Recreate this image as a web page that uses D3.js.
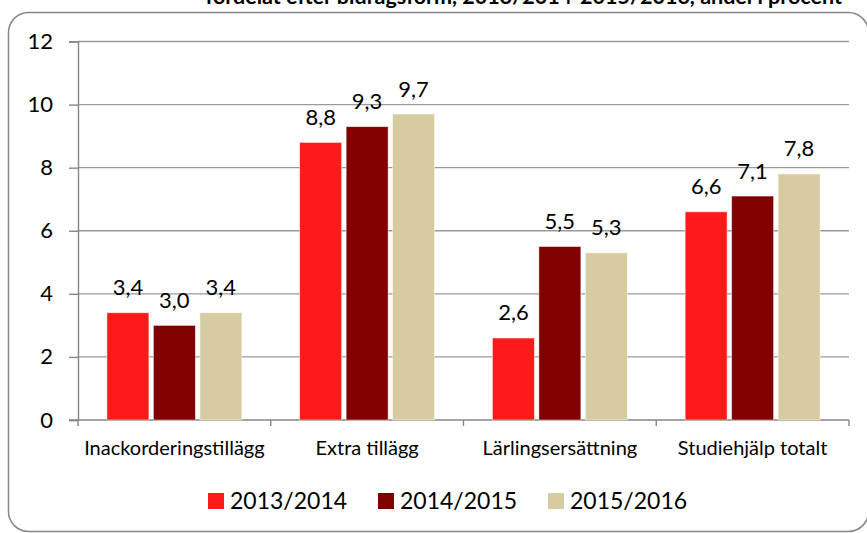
<!DOCTYPE html>
<html>
<head>
<meta charset="utf-8">
<script src="https://cdn.jsdelivr.net/npm/d3@7"></script>
<style>
  body { margin: 0; background: #fff; }
  svg { display: block; font-family: Lato, "Open Sans", sans-serif; }
</style>
</head>
<body>
<svg width="867" height="533"></svg>
<script>
var categories = ["Inackorderingstillägg", "Extra tillägg", "Lärlingsersättning", "Studiehjälp totalt"];
var series = ["2013/2014", "2014/2015", "2015/2016"];
var colors = ["#ff1a1a", "#800000", "#d7cba1"];

// andel i procent per bidragsform, one array per läsår
var v2013 = [3.4, 8.8, 2.6, 6.6];
var v2014 = [3.0, 9.3, 5.5, 7.1];
var v2015 = [3.4, 9.7, 5.3, 7.8];

var yTicks = [0, 2, 4, 6, 8, 10, 12];

var title = "fördelat efter bidragsform, 2013/2014-2015/2016, andel i procent";

var values = [v2013, v2014, v2015];

var svg = d3.select("svg"),
    width = +svg.attr("width"),
    height = +svg.attr("height");

var plot = { left: 78, right: 849, top: 41.5, bottom: 420 };

// outer frame, cropped at the top/right like the source
svg.append("rect")
    .attr("x", 8.5)
    .attr("y", 12.5)
    .attr("width", 860)
    .attr("height", 519)
    .attr("rx", 20)
    .attr("fill", "none")
    .attr("stroke", "#868686")
    .attr("stroke-width", 1.5);

// title line, only its lower edge shows in the source crop
svg.append("text")
    .attr("x", 842)
    .attr("y", 4)
    .attr("text-anchor", "end")
    .attr("font-weight", "bold")
    .attr("font-size", 21.5)
    .attr("fill", "#000")
    .text(title);

var x0 = d3.scaleBand()
    .domain(categories)
    .range([plot.left, plot.right])
    .paddingInner(0.3)
    .paddingOuter(0.15);

var x1 = d3.scaleBand()
    .domain(series)
    .range([0, x0.bandwidth()])
    .paddingInner(0.097);

var y = d3.scaleLinear()
    .domain([0, 12])
    .range([plot.bottom, plot.top]);

// gridlines
svg.append("g")
    .selectAll("line")
    .data(yTicks.filter(function (d) { return d > 0; }))
    .enter().append("line")
    .attr("x1", plot.left)
    .attr("x2", plot.right)
    .attr("y1", function (d) { return y(d); })
    .attr("y2", function (d) { return y(d); })
    .attr("stroke", "#9a9a9a")
    .attr("stroke-width", 1.4);

// y axis
var yAxis = svg.append("g")
    .attr("transform", "translate(" + plot.left + ",0)")
    .call(d3.axisLeft(y).tickValues(yTicks).tickSize(9).tickPadding(16)
        .tickFormat(function (d) { return d; }));

yAxis.select(".domain").attr("stroke", "#868686").attr("stroke-width", 1.4);
yAxis.selectAll(".tick line").attr("stroke", "#868686").attr("stroke-width", 1.4);
yAxis.selectAll(".tick text")
    .attr("font-family", "Lato, sans-serif")
    .attr("font-size", 22)
    .attr("fill", "#000");

// x axis: ticks at the category boundaries
var step = x0.step();
var bounds = d3.range(categories.length + 1).map(function (i) {
    return plot.left + i * step;
});

svg.append("line")
    .attr("x1", plot.left - 9)
    .attr("x2", plot.right)
    .attr("y1", plot.bottom)
    .attr("y2", plot.bottom)
    .attr("stroke", "#868686")
    .attr("stroke-width", 1.4);

svg.append("g")
    .selectAll("line")
    .data(bounds)
    .enter().append("line")
    .attr("x1", function (d) { return d; })
    .attr("x2", function (d) { return d; })
    .attr("y1", plot.bottom)
    .attr("y2", plot.bottom + 6)
    .attr("stroke", "#868686")
    .attr("stroke-width", 1.4);

svg.append("g")
    .selectAll("text")
    .data(categories)
    .enter().append("text")
    .attr("x", function (d) { return x0(d) + x0.bandwidth() / 2; })
    .attr("y", 455)
    .attr("text-anchor", "middle")
    .attr("font-size", 20)
    .attr("fill", "#000")
    .text(function (d) { return d; });

// bars
var groups = svg.append("g")
    .selectAll("g")
    .data(series)
    .enter().append("g")
    .attr("fill", function (d, i) { return colors[i]; });

var fmt = function (v) { return d3.format(".1f")(v).replace(".", ","); };

groups.each(function (s, si) {
    var g = d3.select(this);
    var rows = categories.map(function (c, ci) { return { cat: c, value: values[si][ci] }; });

    g.selectAll("rect")
        .data(rows)
        .enter().append("rect")
        .attr("x", function (d) { return x0(d.cat) + x1(s); })
        .attr("y", function (d) { return y(d.value); })
        .attr("width", x1.bandwidth())
        .attr("height", function (d) { return y(0) - y(d.value); })
        .attr("stroke", "#fff")
        .attr("stroke-opacity", 0.6)
        .attr("stroke-width", 0.8);

    g.selectAll("text")
        .data(rows)
        .enter().append("text")
        .attr("x", function (d) { return x0(d.cat) + x1(s) + x1.bandwidth() / 2; })
        .attr("y", function (d) { return y(d.value) - 17.5; })
        .attr("text-anchor", "middle")
        .attr("font-size", 22)
        .attr("fill", "#000")
        .text(function (d) { return fmt(d.value); });
});

// legend
var legend = svg.append("g")
    .selectAll("g")
    .data(series)
    .enter().append("g")
    .attr("transform", function (d, i) { return "translate(" + (208 + i * 170) + ",493)"; });

legend.append("rect")
    .attr("width", 16)
    .attr("height", 16)
    .attr("fill", function (d, i) { return colors[i]; });

legend.append("text")
    .attr("x", 22)
    .attr("y", 16)
    .attr("font-size", 23)
    .attr("fill", "#000")
    .text(function (d) { return d; });
</script>
</body>
</html>
